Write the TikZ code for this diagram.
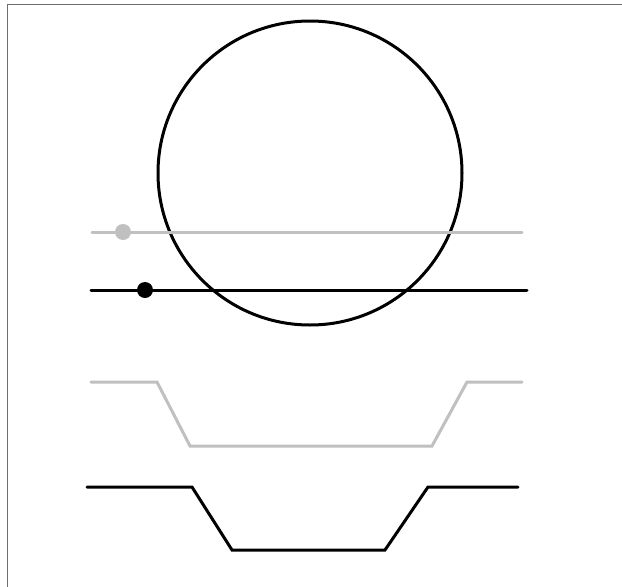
\documentclass[tikz,border=0pt]{standalone}
\begin{document}
\begin{tikzpicture}[x=1pt,y=-1pt,
  blk/.style={line width=3pt,black,line cap=round,line join=miter},
  gry/.style={line width=3pt,color={rgb,255:red,192;green,192;blue,192},line cap=round,line join=miter}]
\useasboundingbox (0,0) rectangle (622,587);
\fill[white] (0,0) rectangle (622,587);
\draw[line width=1pt,color={rgb,255:red,110;green,110;blue,110}] (7.5,4.5) rectangle (640,600);
\node[draw,line width=3pt,circle,minimum size=304pt,inner sep=0pt] (c) at (310,173) {};
% gray line with dot
\coordinate (g1) at (92,232);
\coordinate (g2) at (522,232);
\draw[gry] (g1) -- (g2);
\node[circle,fill={rgb,255:red,192;green,192;blue,192},minimum size=16pt,inner sep=0pt] (gd) at (123,232) {};
% black line with dot
\coordinate (b1) at (91,290);
\coordinate (b2) at (527,290);
\draw[blk] (b1) -- (b2);
\node[circle,fill=black,minimum size=16pt,inner sep=0pt] (bd) at (145,290) {};
% gray trapezoid
\draw[gry] (91,382) -- (157,382) -- (190,446) -- (432,446) -- (467,382) -- (522,382);
% black trapezoid
\draw[blk] (87,487) -- (192,487) -- (232,550) -- (385,550) -- (428,487) -- (518,487);
\end{tikzpicture}
\end{document}
